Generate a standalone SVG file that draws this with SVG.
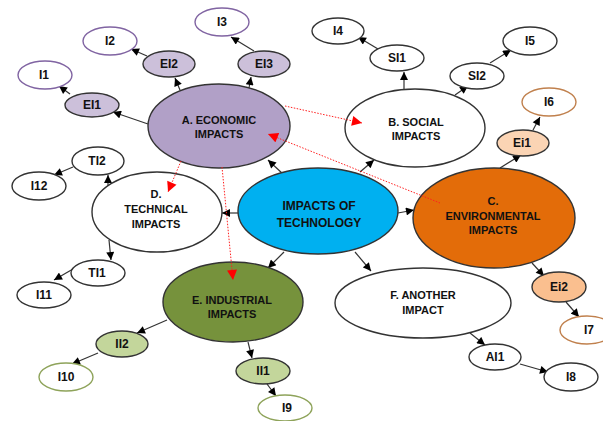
<svg xmlns="http://www.w3.org/2000/svg" width="603" height="421" viewBox="0 0 603 421">
<style>
text{font-family:"Liberation Sans",Arial,sans-serif;font-weight:bold;fill:#111;text-anchor:middle}
.big{font-size:11px}
.sm{font-size:12px}
ellipse{stroke:#333;stroke-width:1.4}
.c line{stroke:#333;stroke-width:1.2;marker-end:url(#ah)}
.r line{stroke:#ff2020;stroke-width:1;stroke-dasharray:1.5 1.5;marker-end:url(#rh)}
.pur{fill:#fff;stroke:#8064a2}
.org{fill:#fff;stroke:#c0804d}
.grn{fill:#fff;stroke:#8ea35a}
.wht{fill:#fff}
</style>
<defs>
<marker id="ah" viewBox="0 0 10 10" refX="10" refY="5" markerWidth="9" markerHeight="8" markerUnits="userSpaceOnUse" orient="auto"><path d="M0,0L10,5L0,10z" fill="#000"/></marker>
<marker id="rh" viewBox="0 0 10 10" refX="10" refY="5" markerWidth="11" markerHeight="10" markerUnits="userSpaceOnUse" orient="auto"><path d="M0,0L10,5L0,10z" fill="#ff0000"/></marker>
</defs>
<g id="connectors">
<g class="c">
<line x1="284" y1="175" x2="268" y2="160"/>
<line x1="360" y1="172" x2="374" y2="160"/>
<line x1="398" y1="213" x2="414" y2="210"/>
<line x1="238" y1="213" x2="222" y2="213"/>
<line x1="284" y1="252" x2="268" y2="268"/>
<line x1="355" y1="252" x2="371" y2="271"/>
<line x1="148" y1="124" x2="113" y2="112"/>
<line x1="180" y1="90" x2="175" y2="78"/>
<line x1="249" y1="88" x2="251" y2="77"/>
<line x1="70" y1="94" x2="59" y2="86"/>
<line x1="147" y1="56" x2="131" y2="49"/>
<line x1="254" y1="51" x2="231" y2="37"/>
<line x1="404" y1="89" x2="404" y2="72"/>
<line x1="455" y1="95" x2="468" y2="86"/>
<line x1="378" y1="49" x2="358" y2="37"/>
<line x1="490" y1="63" x2="511" y2="50"/>
<line x1="500" y1="168" x2="521" y2="155"/>
<line x1="533" y1="130" x2="540" y2="117"/>
<line x1="532" y1="263" x2="544" y2="276"/>
<line x1="566" y1="302" x2="579" y2="317"/>
<line x1="470" y1="333" x2="485" y2="345"/>
<line x1="520" y1="364" x2="548" y2="372"/>
<line x1="248" y1="342" x2="252" y2="358"/>
<line x1="267" y1="384" x2="276" y2="396"/>
<line x1="167" y1="320" x2="137" y2="333"/>
<line x1="98" y1="353" x2="72" y2="364"/>
<line x1="108" y1="186" x2="108" y2="175"/>
<line x1="73" y1="167" x2="54" y2="175"/>
<line x1="109" y1="240" x2="111" y2="260"/>
<line x1="73" y1="269" x2="54" y2="280"/>
</g>
</g>
<g id="center"><ellipse cx="318" cy="211" rx="80" ry="43" fill="#00b0f0"/><text class="sm" x="319" y="210">IMPACTS OF</text><text class="sm" x="319" y="227">TECHNOLOGY</text></g>
<g id="A"><ellipse cx="219" cy="126" rx="71" ry="42" fill="#b1a0c7"/><text class="big" x="219" y="124">A. ECONOMIC</text><text class="big" x="219" y="138">IMPACTS</text></g>
<g id="B"><ellipse cx="415" cy="128" rx="70" ry="39" class="wht"/><text class="big" x="416" y="126">B. SOCIAL</text><text class="big" x="416" y="140">IMPACTS</text></g>
<g id="C"><ellipse cx="494" cy="218" rx="81" ry="50" fill="#e36c09"/><text class="big" x="493" y="205">C.</text><text class="big" x="493" y="220">ENVIRONMENTAL</text><text class="big" x="493" y="234">IMPACTS</text></g>
<g id="D"><ellipse cx="157" cy="212" rx="65" ry="40" class="wht"/><text class="big" x="156" y="198">D.</text><text class="big" x="156" y="213">TECHNICAL</text><text class="big" x="156" y="228">IMPACTS</text></g>
<g id="E"><ellipse cx="233" cy="302" rx="70" ry="40" fill="#76923c"/><text class="big" x="232" y="304">E. INDUSTRIAL</text><text class="big" x="232" y="318">IMPACTS</text></g>
<g id="F"><ellipse cx="423" cy="303" rx="88" ry="35" class="wht"/><text class="big" x="423" y="299">F. ANOTHER</text><text class="big" x="423" y="314">IMPACT</text></g>
<g id="EI1"><ellipse cx="92" cy="105" rx="27" ry="12" fill="#ccc0da"/><text class="sm" x="92" y="109">EI1</text></g>
<g id="EI2"><ellipse cx="169" cy="64" rx="26" ry="13" fill="#ccc0da"/><text class="sm" x="169" y="68">EI2</text></g>
<g id="EI3"><ellipse cx="264" cy="64" rx="26" ry="13" fill="#ccc0da"/><text class="sm" x="264" y="68">EI3</text></g>
<g id="I1"><ellipse cx="45" cy="75" rx="27" ry="14" class="pur"/><text class="sm" x="44" y="79">I1</text></g>
<g id="I2"><ellipse cx="110" cy="41" rx="27" ry="14" class="pur"/><text class="sm" x="110" y="45">I2</text></g>
<g id="I3"><ellipse cx="222" cy="22" rx="27" ry="14" class="pur"/><text class="sm" x="222" y="26">I3</text></g>
<g id="SI1"><ellipse cx="397" cy="58" rx="27" ry="13" class="wht"/><text class="sm" x="397" y="62">SI1</text></g>
<g id="SI2"><ellipse cx="477" cy="76" rx="27" ry="13" class="wht"/><text class="sm" x="477" y="80">SI2</text></g>
<g id="I4"><ellipse cx="338" cy="31" rx="26" ry="13" class="wht"/><text class="sm" x="338" y="35">I4</text></g>
<g id="I5"><ellipse cx="530" cy="41" rx="27" ry="14" class="wht"/><text class="sm" x="530" y="45">I5</text></g>
<g id="Ei1"><ellipse cx="523" cy="143" rx="26" ry="13" fill="#fbd4b4"/><text class="sm" x="522" y="147">Ei1</text></g>
<g id="I6"><ellipse cx="549" cy="102" rx="27" ry="14" class="org"/><text class="sm" x="549" y="106">I6</text></g>
<g id="Ei2"><ellipse cx="559" cy="287" rx="27" ry="15" fill="#fabf8f"/><text class="sm" x="559" y="291">Ei2</text></g>
<g id="I7"><ellipse cx="587" cy="330" rx="27" ry="14" class="org"/><text class="sm" x="589" y="334">I7</text></g>
<g id="AI1"><ellipse cx="495" cy="357" rx="26" ry="13" class="wht"/><text class="sm" x="495" y="361">AI1</text></g>
<g id="I8"><ellipse cx="571" cy="377" rx="27" ry="14" class="wht"/><text class="sm" x="571" y="381">I8</text></g>
<g id="II1"><ellipse cx="263" cy="371" rx="27" ry="13" fill="#c3d69b"/><text class="sm" x="263" y="375">II1</text></g>
<g id="I9"><ellipse cx="285" cy="408" rx="27" ry="13" class="grn"/><text class="sm" x="287" y="412">I9</text></g>
<g id="II2"><ellipse cx="122" cy="344" rx="26" ry="13" fill="#c3d69b"/><text class="sm" x="122" y="348">II2</text></g>
<g id="I10"><ellipse cx="66" cy="377" rx="27" ry="14" class="grn"/><text class="sm" x="66" y="381">I10</text></g>
<g id="TI1"><ellipse cx="98" cy="273" rx="27" ry="13" class="wht"/><text class="sm" x="97" y="277">TI1</text></g>
<g id="TI2"><ellipse cx="98" cy="161" rx="26" ry="14" class="wht"/><text class="sm" x="97" y="165">TI2</text></g>
<g id="I11"><ellipse cx="44" cy="295" rx="27" ry="13" class="wht"/><text class="sm" x="44" y="299">I11</text></g>
<g id="I12"><ellipse cx="39" cy="186" rx="27" ry="14" class="wht"/><text class="sm" x="39" y="190">I12</text></g>
<g id="red-connectors" class="r">
<line x1="285" y1="106" x2="362" y2="123"/>
<line x1="181" y1="161" x2="168" y2="192"/>
<line x1="222" y1="167" x2="233" y2="280"/>
<line x1="440" y1="203" x2="268" y2="134"/>
</g>
</svg>
